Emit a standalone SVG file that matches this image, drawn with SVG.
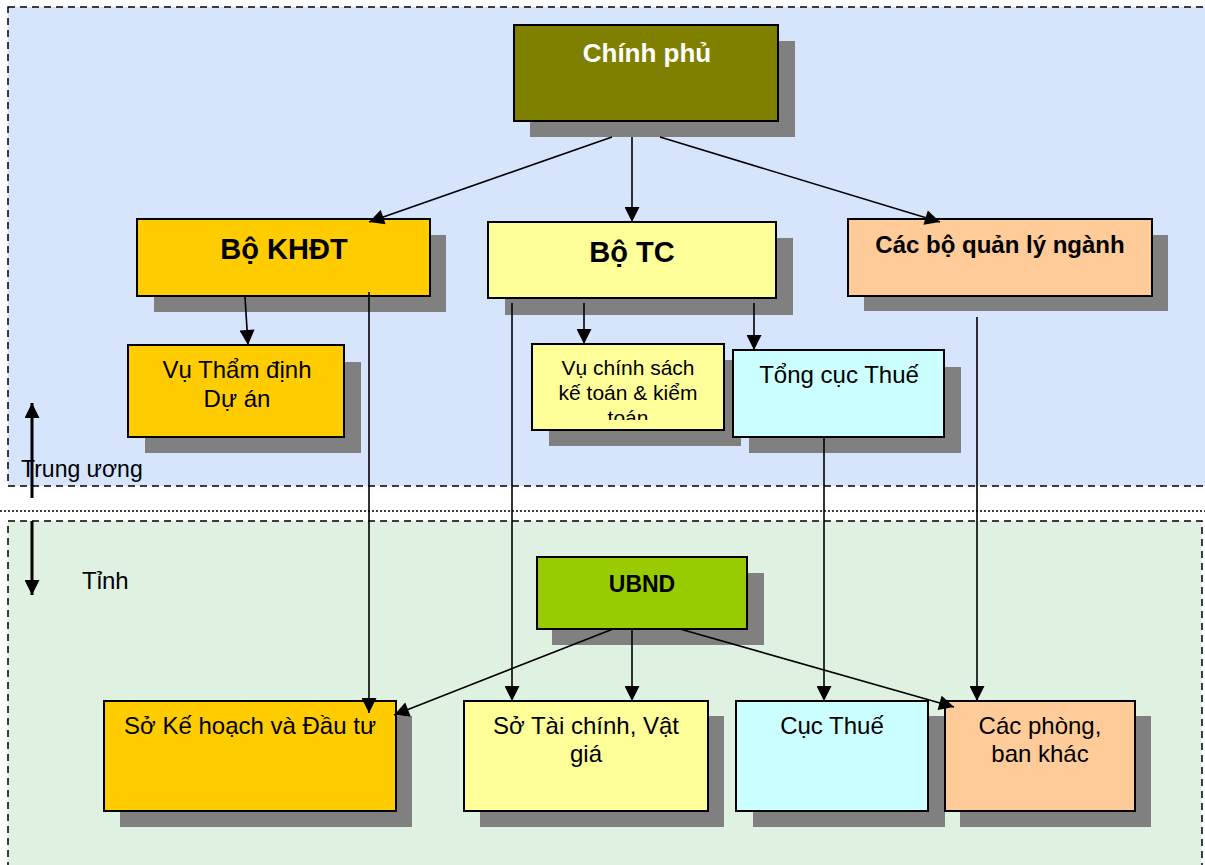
<svg xmlns="http://www.w3.org/2000/svg" width="1205" height="865" viewBox="0 0 1205 865">
  <style>
    .box { stroke: #000; stroke-width: 2; }
    .shadow { fill: #808080; }
    .t { font-family: "Liberation Sans", Arial, sans-serif; text-anchor: middle; fill: #000; font-size: 24px; }
    .s { text-anchor: start; }
    .b { font-weight: bold; }
    .conn line { stroke: #000; stroke-width: 1.6; fill: none; }
    .zone { stroke: #000; stroke-width: 1.5; stroke-dasharray: 7 5; }
  </style>
  <defs>
    <marker id="arrBig" viewBox="0 0 10 10" refX="10" refY="5" markerWidth="17" markerHeight="15" markerUnits="userSpaceOnUse" orient="auto">
      <path d="M0,0 L10,5 L0,10 z" fill="#000"/>
    </marker>
    <clipPath id="clipVu">
      <rect x="532" y="344" width="192" height="76"/>
    </clipPath>
  </defs>

  <rect width="1205" height="865" fill="#fff"/>

  <!-- central level zone -->
  <rect x="8" y="7" width="1210" height="479" fill="#D6E4FC" class="zone"/>
  <!-- separator between levels -->
  <line x1="0" y1="511" x2="1205" y2="511" stroke="#000" stroke-width="1.5" stroke-dasharray="2 2"/>
  <!-- provincial level zone -->
  <rect x="8" y="521" width="1194" height="360" fill="#DFF2E1" class="zone"/>

  <!-- level indicators -->
  <g id="level-arrows">
    <line x1="32" y1="498" x2="32" y2="403" stroke="#000" stroke-width="3" marker-end="url(#arrBig)"/>
    <line x1="32" y1="521" x2="32" y2="595" stroke="#000" stroke-width="3" marker-end="url(#arrBig)"/>
    <text class="t s" x="21" y="477" font-size="23" style="font-size:23px">Trung ương</text>
    <text class="t s" x="82" y="589">Tỉnh</text>
  </g>

  <!-- central nodes -->
  <g id="chinh-phu">
    <rect class="shadow" x="530" y="41" width="265" height="96"/>
    <rect class="box" x="514" y="25" width="264" height="96" fill="#808000"/>
    <text class="t b" x="647" y="62" style="fill:#fff;font-size:26px">Chính phủ</text>
  </g>

  <g id="bo-khdt">
    <rect class="shadow" x="154" y="235" width="292" height="77"/>
    <rect class="box" x="137" y="219" width="293" height="77" fill="#FFCC00"/>
    <text class="t b" x="284" y="259" style="font-size:29px">Bộ KHĐT</text>
  </g>

  <g id="bo-tc">
    <rect class="shadow" x="505" y="238" width="288" height="77"/>
    <rect class="box" x="488" y="222" width="288" height="76" fill="#FFFF99"/>
    <text class="t b" x="632" y="262" style="font-size:29px">Bộ TC</text>
  </g>

  <g id="cac-bo">
    <rect class="shadow" x="864" y="235" width="304" height="76"/>
    <rect class="box" x="848" y="219" width="304" height="77" fill="#FFCC99"/>
    <text class="t b" x="1000" y="253">Các bộ quản lý ngành</text>
  </g>

  <g id="vu-tham-dinh">
    <rect class="shadow" x="145" y="362" width="216" height="91"/>
    <rect class="box" x="128" y="345" width="216" height="92" fill="#FFCC00"/>
    <text class="t" x="237" y="378">Vụ Thẩm định</text>
    <text class="t" x="237" y="407">Dự án</text>
  </g>

  <g id="vu-chinh-sach">
    <rect class="shadow" x="549" y="360" width="192" height="86"/>
    <rect class="box" x="532" y="344" width="192" height="86" fill="#FFFF99"/>
    <g clip-path="url(#clipVu)">
      <text class="t" x="628" y="375" style="font-size:21px">Vụ chính sách</text>
      <text class="t" x="628" y="400" style="font-size:21px">kế toán &amp; kiểm</text>
      <text class="t" x="628" y="425" style="font-size:21px">toán</text>
    </g>
  </g>

  <g id="tong-cuc-thue">
    <rect class="shadow" x="749" y="367" width="212" height="86"/>
    <rect class="box" x="733" y="350" width="211" height="87" fill="#CCFFFF"/>
    <text class="t" x="839" y="383">Tổng cục Thuế</text>
  </g>

  <!-- provincial nodes -->
  <g id="ubnd">
    <rect class="shadow" x="552" y="573" width="212" height="72"/>
    <rect class="box" x="537" y="557" width="210" height="72" fill="#99CC00"/>
    <text class="t b" x="642" y="592" style="font-size:23px">UBND</text>
  </g>

  <g id="so-khdt">
    <rect class="shadow" x="120" y="716" width="292" height="111"/>
    <rect class="box" x="104" y="701" width="292" height="110" fill="#FFCC00"/>
    <text class="t" x="250" y="734">Sở Kế hoạch và Đầu tư</text>
  </g>

  <g id="so-tai-chinh">
    <rect class="shadow" x="480" y="716" width="244" height="111"/>
    <rect class="box" x="464" y="701" width="244" height="110" fill="#FFFF99"/>
    <text class="t" x="586" y="734">Sở Tài chính, Vật</text>
    <text class="t" x="586" y="762">giá</text>
  </g>

  <g id="cuc-thue">
    <rect class="shadow" x="753" y="716" width="192" height="111"/>
    <rect class="box" x="736" y="701" width="192" height="110" fill="#CCFFFF"/>
    <text class="t" x="832" y="734">Cục Thuế</text>
  </g>

  <g id="cac-phong">
    <rect class="shadow" x="960" y="716" width="191" height="111"/>
    <rect class="box" x="945" y="701" width="190" height="110" fill="#FFCC99"/>
    <text class="t" x="1040" y="734">Các phòng,</text>
    <text class="t" x="1040" y="762">ban khác</text>
  </g>

  <!-- connectors -->
  <g id="connectors" class="conn">
    <line x1="612" y1="137" x2="369" y2="222" marker-end="url(#arrBig)"/>
    <line x1="632" y1="137" x2="632" y2="222" marker-end="url(#arrBig)"/>
    <line x1="660" y1="137" x2="940" y2="222" marker-end="url(#arrBig)"/>
    <line x1="245" y1="297" x2="248" y2="345" marker-end="url(#arrBig)"/>
    <line x1="584" y1="303" x2="584" y2="344" marker-end="url(#arrBig)"/>
    <line x1="754" y1="303" x2="754" y2="350" marker-end="url(#arrBig)"/>
    <line x1="369" y1="292" x2="369" y2="713" marker-end="url(#arrBig)"/>
    <line x1="512" y1="303" x2="512" y2="701" marker-end="url(#arrBig)"/>
    <line x1="977" y1="317" x2="977" y2="701" marker-end="url(#arrBig)"/>
    <line x1="824" y1="437" x2="824" y2="701" marker-end="url(#arrBig)"/>
    <line x1="613" y1="629" x2="394" y2="715" marker-end="url(#arrBig)"/>
    <line x1="632" y1="629" x2="632" y2="701" marker-end="url(#arrBig)"/>
    <line x1="680" y1="629" x2="954" y2="707" marker-end="url(#arrBig)"/>
  </g>
</svg>
